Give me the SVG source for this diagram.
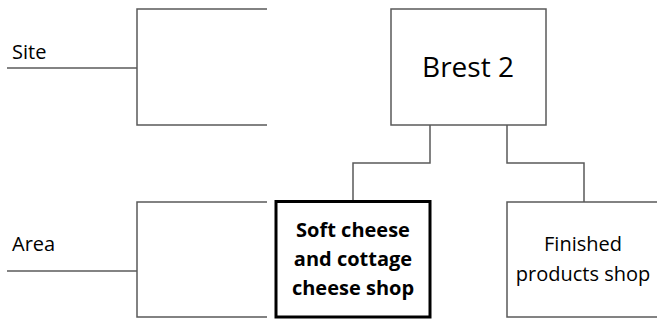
<svg xmlns="http://www.w3.org/2000/svg" width="657" height="320" viewBox="0 0 657 320">
  <style>
    .ln { fill: none; stroke: #5a5a5a; stroke-width: 1.5; }
    .box { fill: #ffffff; stroke: #5a5a5a; stroke-width: 1.5; }
    .bold { fill: #ffffff; stroke: #000000; stroke-width: 3; }
    .lbl { font-family: "Open Sans", "Liberation Sans", sans-serif; font-size: 20px; fill: #000; }
    .big { font-family: "Open Sans", "Liberation Sans", sans-serif; font-size: 28px; fill: #000; text-anchor: middle; }
    .mid { text-anchor: middle; }
    .b { font-weight: bold; }
  </style>
  <rect width="657" height="320" fill="#ffffff"/>

  <g id="connectors">
    <path class="ln" d="M7,68 H137"/>
    <path class="ln" d="M7,271 H137"/>
    <path class="ln" d="M430,125 V163 H353 V200"/>
    <path class="ln" d="M507,125 V163 H584 V202"/>
  </g>

  <g id="row-site">
    <text class="lbl" x="12" y="59">Site</text>
    <path class="ln" d="M267,9 H137 V125 H267"/>
  </g>

  <g id="row-area">
    <text class="lbl" x="12" y="251">Area</text>
    <path class="ln" d="M267,202 H137 V317 H267"/>
  </g>

  <g id="brest">
    <rect class="box" x="391" y="9" width="155" height="116"/>
    <text class="big" x="468" y="77">Brest 2</text>
  </g>

  <g id="soft-cheese">
    <rect class="bold" x="276" y="201.5" width="154" height="115.5"/>
    <text class="lbl mid b" x="353" y="237">Soft cheese</text>
    <text class="lbl mid b" x="353" y="266">and cottage</text>
    <text class="lbl mid b" x="353" y="295">cheese shop</text>
  </g>

  <g id="finished">
    <rect class="box" x="507" y="202" width="160" height="115"/>
    <text class="lbl mid" x="583" y="251">Finished</text>
    <text class="lbl mid" x="583" y="281">products shop</text>
  </g>
</svg>
